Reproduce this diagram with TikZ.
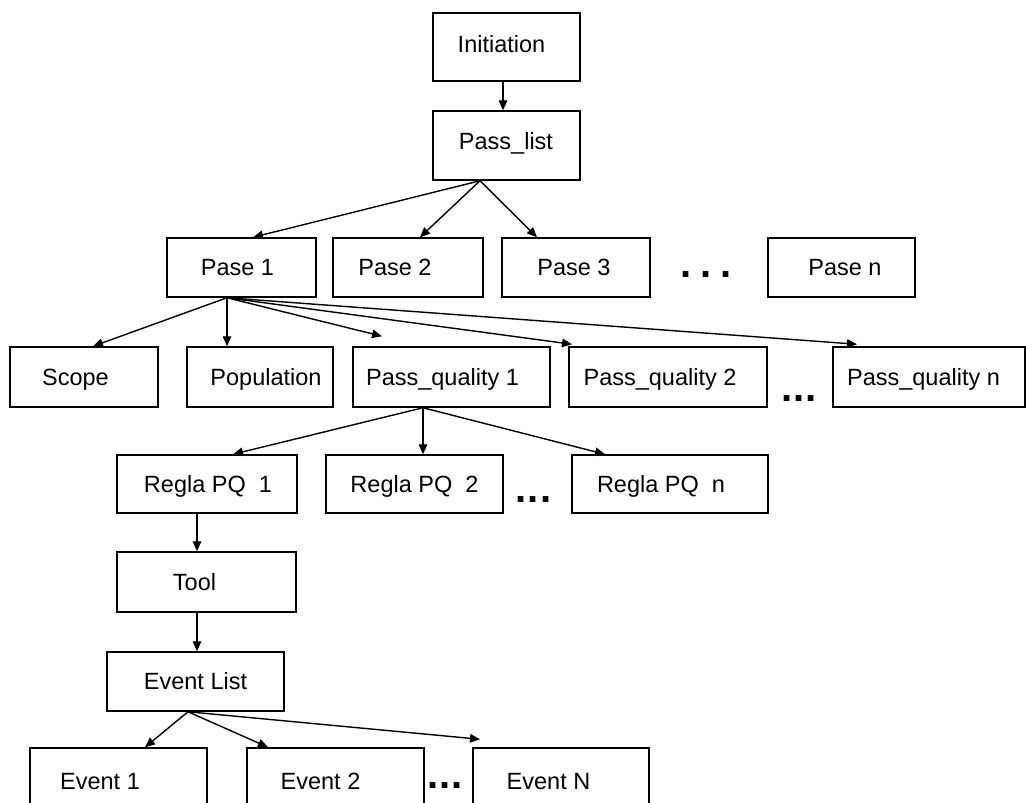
\documentclass[tikz,border=0pt]{standalone}
\usepackage{fontspec}
\setmainfont{Liberation Sans}
\usetikzlibrary{arrows.meta,calc}
\begin{document}
\begin{tikzpicture}[x=1pt,y=-1pt,
  box/.style={draw=black, line width=1.5pt, inner sep=0pt, rectangle},
  lab/.style={font=\fontsize{23.5}{28}\selectfont, inner sep=0pt, text height=16.8pt, text depth=0pt},
  dots/.style={font=\fontsize{40}{40}\selectfont\bfseries, inner sep=0pt},
  arr/.style={line width=1.4pt, -{Triangle[length=10pt,width=8.5pt]}}]
\useasboundingbox (0,0) rectangle (1026,803);
\fill[white] (0,0) rectangle (1026,803);
\clip (0,0) rectangle (1026,803);
% boxes
\node[box, minimum width=147pt, minimum height=68pt, label={[lab,xshift=-5pt,yshift=3pt]center:Initiation}] (init) at (506.5,47) {};
\node[box, minimum width=147pt, minimum height=69pt, label={[lab,xshift=-0.5pt,yshift=4pt]center:Pass\_list}] (pl) at (506.5,145.5) {};
\node[box, minimum width=149pt, minimum height=59pt, label={[lab,xshift=-4pt]center:Pase 1}] (p1) at (241.5,267.5) {};
\node[box, minimum width=150pt, minimum height=59pt, label={[lab,xshift=-13pt]center:Pase 2}] (p2) at (408,267.5) {};
\node[box, minimum width=148pt, minimum height=59pt, label={[lab,xshift=-2pt]center:Pase 3}] (p3) at (576,267.5) {};
\node[box, minimum width=147pt, minimum height=59pt, label={[lab,xshift=3.5pt]center:Pase n}] (pn) at (841.5,267.5) {};
\node[box, minimum width=148pt, minimum height=60pt, label={[lab,xshift=-8.5pt]center:Scope}] (scope) at (84,377) {};
\node[box, minimum width=146pt, minimum height=60pt, label={[lab,xshift=6pt]center:Population}] (pop) at (260,377) {};
\node[box, minimum width=197pt, minimum height=60pt, label={[lab,xshift=-9pt]center:Pass\_quality 1}] (q1) at (451.5,377) {};
\node[box, minimum width=198pt, minimum height=60pt, label={[lab,xshift=-8pt]center:Pass\_quality 2}] (q2) at (668,377) {};
\node[box, minimum width=192pt, minimum height=60pt, label={[lab,xshift=-5.5pt]center:Pass\_quality n}] (qn) at (929,377) {};
\node[box, minimum width=180pt, minimum height=58pt, label={[lab,xshift=1pt]center:Regla PQ\ \ 1}] (r1) at (207,484) {};
\node[box, minimum width=177pt, minimum height=58pt, label={[lab]center:Regla PQ\ \ 2}] (r2) at (414.5,484) {};
\node[box, minimum width=196pt, minimum height=58pt, label={[lab,xshift=-9pt]center:Regla PQ\ \ n}] (rn) at (670,484) {};
\node[box, minimum width=179pt, minimum height=60pt, label={[lab,xshift=-12pt]center:Tool}] (tool) at (206.5,582) {};
\node[box, minimum width=177pt, minimum height=59pt, label={[lab]center:Event List}] (el) at (195.5,681.5) {};
\node[box, minimum width=177pt, minimum height=66pt, label={[lab,xshift=-18.5pt]center:Event 1}] (e1) at (118.5,781) {};
\node[box, minimum width=177pt, minimum height=66pt, label={[lab,xshift=-15pt]center:Event 2}] (e2) at (335.5,781) {};
\node[box, minimum width=176pt, minimum height=66pt, label={[lab,xshift=-12.5pt]center:Event N}] (eN) at (561,781) {};
% ellipses
\node[dots] (d1) at (706,274.5) {.\hspace{8.9pt}.\hspace{8.9pt}.};
\node[dots] (d2) at (799,398.5) {.\hspace{0.6pt}.\hspace{0.6pt}.};
\node[dots] (d3) at (533.5,500) {.\hspace{1pt}.\hspace{1pt}.};
\node[dots] (d4) at (445,786) {.\hspace{1pt}.\hspace{1pt}.};
% connectors
\draw[arr] ([xshift=-3.5pt]init.south) -- ([xshift=-3.5pt]pl.north);
\draw[arr] ([xshift=-26.5pt]pl.south) -- ([xshift=11.5pt]p1.north);
\draw[arr] ([xshift=-26.5pt]pl.south) -- ([xshift=12pt]p2.north);
\draw[arr] ([xshift=-26.5pt]pl.south) -- ([xshift=-39pt]p3.north);
\draw[arr] ([xshift=-14.5pt]p1.south) -- ([xshift=9pt]scope.north);
\draw[arr] ([xshift=-14.5pt]p1.south) -- ([xshift=-33pt]pop.north);
\draw[arr] ([xshift=-14.5pt]p1.south) -- ([xshift=-69.5pt,yshift=10pt]q1.north);
\draw[arr] ([xshift=-14.5pt]p1.south) -- ([xshift=-96pt,yshift=2pt]q2.north);
\draw[arr] ([xshift=-14.5pt]p1.south) -- ([xshift=-72pt,yshift=2pt]qn.north);
\draw[arr] ([xshift=-28.5pt]q1.south) -- ([xshift=26pt]r1.north);
\draw[arr] ([xshift=-28.5pt]q1.south) -- ([xshift=8.5pt]r2.north);
\draw[arr] ([xshift=-28.5pt]q1.south) -- ([xshift=-65pt]rn.north);
\draw[arr] ([xshift=-10pt]r1.south) -- ([xshift=-9.5pt]tool.north);
\draw[arr] ([xshift=-9.5pt]tool.south) -- ([xshift=1.5pt]el.north);
\draw[arr] ([xshift=-7.5pt]el.south) -- ([xshift=26.5pt]e1.north);
\draw[arr] ([xshift=-7.5pt]el.south) -- ([xshift=-67.5pt]e2.north);
\draw[arr] ([xshift=-7.5pt]el.south) -- ([xshift=-81pt,yshift=8pt]eN.north);
\end{tikzpicture}
\end{document}
